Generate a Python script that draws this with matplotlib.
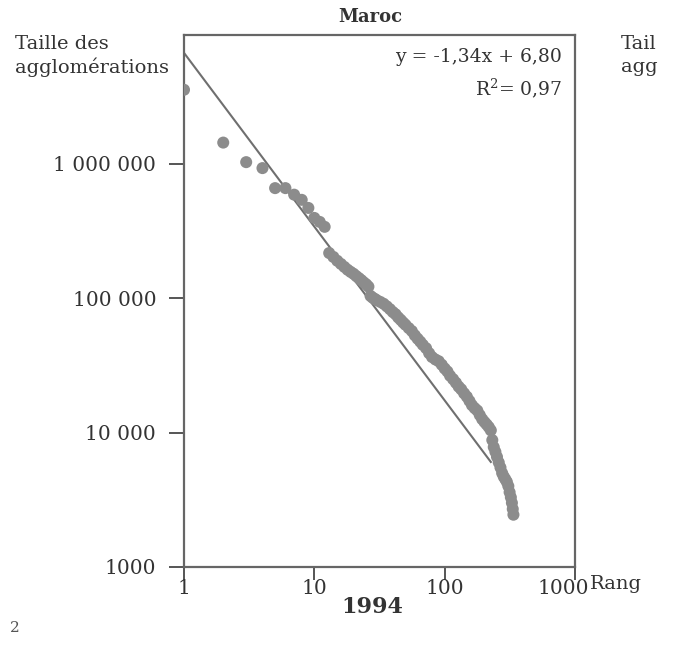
import matplotlib
matplotlib.use("Agg")
import matplotlib.pyplot as plt
import matplotlib.transforms as mtransforms

# rank-size data, Maroc 1994
ranks = [1, 2, 3, 4, 5, 6, 7, 8, 9, 10, 11, 12,
         13, 14, 15, 16, 17, 18, 19, 20, 21, 22, 23, 24, 25, 26, 27, 28, 29, 30,
         32, 34, 36, 38, 40, 42, 44, 46, 48, 50, 53, 56, 59, 62, 65, 68, 72, 76,
         80, 85, 90, 95, 100, 105, 110, 116, 122, 128, 134, 141, 148, 155, 162,
         170, 178, 186, 194, 202, 210, 218, 226, 232, 238, 245, 252, 260, 268,
         276, 284, 292, 300, 308, 315, 322, 328, 333, 337]
sizes = [3560000, 1440000, 1030000, 930000, 660000, 660000, 590000, 540000,
         470000, 396000, 370000, 340000,
         217000, 203000, 190000, 180000, 171000, 163000, 157000, 152000, 146000,
         141000, 136000, 131000, 127000, 122000, 104000, 101000, 99000, 97000,
         94000, 91000, 87000, 83000, 79000, 76000, 72000, 69000, 66000, 63500,
         60000, 57000, 53000, 50000, 47500, 45000, 42500, 39000,
         36500, 35000, 34000, 32000, 30000, 28500, 26500, 25000, 23500, 22000,
         21000, 19600, 18500, 17200, 16000,
         15200, 14600, 13500, 12600, 12000, 11500, 11000, 10400, 8800, 7800,
         7200, 6600, 6000, 5500,
         5000, 4700, 4500, 4300, 4000, 3600, 3300, 3000, 2700, 2450]

# fitted line as drawn
fit_rank = [1, 226]
fit_size = [6700000, 6050]

xticks = [1, 10, 100, 1000]
xtick_labels = ["1", "10", "100", "1000"]
yticks = [1000, 10000, 100000, 1000000]
ytick_labels = ["1000", "10 000", "100 000", "1 000 000"]

plt.rcParams['font.family'] = ['DejaVu Serif']
plt.rcParams['mathtext.fontset'] = 'dejavuserif'

W, H = 680, 653
fig = plt.figure(figsize=(W / 100, H / 100), dpi=100)
fig.set_facecolor('white')
ax = fig.add_axes([184 / W, 1 - 567 / H, (575 - 184) / W, (567 - 35) / H])

ax.plot(fit_rank, fit_size, color='#6f6f6f', lw=1.5, zorder=2)
ax.scatter(ranks, sizes, s=75, color='#8c8c8c', edgecolors='none', zorder=3)

ax.set_xscale('log')
ax.set_yscale('log')
ax.set_xlim(1, 1000)
ax.set_ylim(1000, 9.1e6)
ax.set_xticks(xticks)
ax.set_xticklabels(xtick_labels)
ax.set_yticks(yticks)
ax.set_yticklabels(ytick_labels)
ax.minorticks_off()

for s in ['top', 'bottom', 'left', 'right']:
    ax.spines[s].set_color('#666666')
    ax.spines[s].set_linewidth(1.6)

ax.tick_params(axis='x', direction='out', length=9, width=1.4, color='#555555',
               labelsize=14.5, labelcolor='#333333', pad=0)
ax.tick_params(axis='y', direction='out', length=11, width=1.4, color='#555555',
               labelsize=14.5, labelcolor='#333333', pad=9)

# "1000" sits a little left of its tick, next to "Rang"
last = ax.get_xticklabels()[-1]
last.set_transform(last.get_transform() +
                   mtransforms.ScaledTranslation(-12 / 100, 0, fig.dpi_scale_trans))

ax.text(0.967, 0.959, "y = -1,34x + 6,80", transform=ax.transAxes,
        ha='right', va='center', fontsize=13.5, color='#333333')
ax.text(0.967, 0.900, "R$^2$= 0,97", transform=ax.transAxes,
        ha='right', va='center', fontsize=13.5, color='#333333')

def px(x, y):
    return x / W, 1 - y / H

fig.text(*px(370, 17), "Maroc", ha='center', va='center', fontsize=13,
         fontweight='bold', color='#333333')
fig.text(*px(15, 44), "Taille des", ha='left', va='center', fontsize=14, color='#333333')
fig.text(*px(15, 67), "agglomérations", ha='left', va='center', fontsize=14, color='#333333')
# neighbouring chart's label, cut at the page edge
fig.text(*px(621, 44), "Tail", ha='left', va='center', fontsize=14, color='#333333')
fig.text(*px(621, 67), "agg", ha='left', va='center', fontsize=14, color='#333333')
fig.text(*px(590, 584), "Rang", ha='left', va='center', fontsize=14, color='#333333')
fig.text(*px(372, 607), "1994", ha='center', va='center', fontsize=16,
         fontweight='bold', color='#333333')
fig.text(*px(10, 628), "2", ha='left', va='center', fontsize=11, color='#555555')

fig.savefig("out.png", dpi=100, facecolor='white')
